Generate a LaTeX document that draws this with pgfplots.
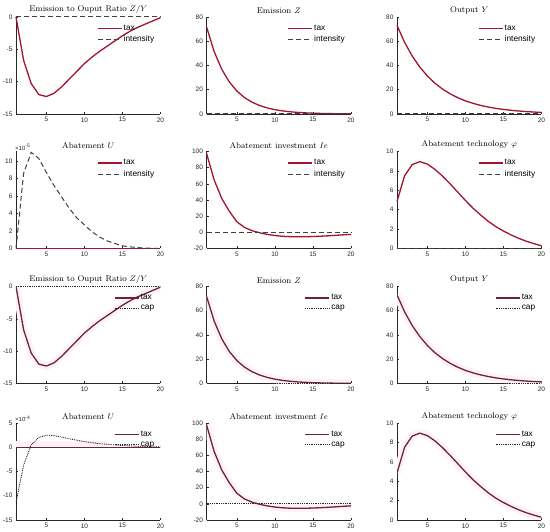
\documentclass[border=0pt]{standalone}
\usepackage{fontspec}
\setsansfont{Liberation Sans}
\usepackage{pgfplots}
\pgfplotsset{compat=1.18}
\usepackage{pgfplotstable}

\definecolor{crim}{RGB}{162,20,47}
\definecolor{maroonc}{RGB}{105,38,50}
\definecolor{dgray}{RGB}{64,64,64}
\definecolor{bandc}{RGB}{255,241,248}
\definecolor{axgray}{RGB}{38,38,38}

\pgfplotstableread{
x zy ez oy ie phi uint ucap
1 0 72.0 73.1 98 4.85 0 -11.4
2 -6.7 51.6 59.1 65 7.5 8.6 -3.7
3 -10.3 36.9 47.8 42 8.65 11.0 0.5
4 -12.0 26.4 38.7 26 8.95 10.3 2.0
5 -12.3 18.9 31.3 13 8.7 8.7 2.5
6 -11.8 13.5 25.3 6 8.15 7.2 2.4
7 -10.8 9.7 20.5 2 7.45 5.9 2.1
8 -9.6 6.95 16.6 -0.6 6.65 4.6 1.75
9 -8.4 4.97 13.4 -2.6 5.8 3.5 1.45
10 -7.2 3.56 10.8 -4.0 4.95 2.7 1.15
11 -6.2 2.55 8.77 -4.9 4.15 1.9 0.95
12 -5.3 1.83 7.09 -5.4 3.45 1.3 0.75
13 -4.5 1.31 5.74 -5.6 2.8 0.87 0.6
14 -3.7 0.94 4.64 -5.5 2.25 0.57 0.47
15 -2.9 0.67 3.76 -5.2 1.8 0.3 0.36
16 -2.2 0.48 3.04 -4.8 1.4 0.19 0.27
17 -1.6 0.34 2.46 -4.3 1.05 0.1 0.2
18 -1.1 0.25 1.99 -3.7 0.75 0.05 0.15
19 -0.6 0.18 1.61 -3.1 0.5 0.02 0.1
20 -0.1 0.13 1.30 -2.5 0.28 0 0.07
}\data

\pgfplotsset{
  lleg/.style={legend image code/.code={\draw[##1] (0pt,0pt) -- (24pt,0pt);}},
  panel/.style={
    scale only axis, width=144.5pt, height=97pt,
    anchor=south west,
    xmin=1, xmax=20, xtick={5,10,15,20},
    axis x line*=bottom, axis y line*=left,
    axis line style={axgray, line width=0.5pt},
    tick style={axgray, line width=0.5pt},
    major tick length=2pt, tick align=inside,
    ticklabel style={font=\fontsize{6.5}{7.5}\sffamily, text=axgray},
    /pgf/number format/assume math mode=true,
    title style={at={(0.5,1)}, anchor=south, font=\fontsize{8.3}{9}\selectfont, inner sep=0pt, yshift=-3pt},
    legend style={draw=none, fill=none, font=\fontsize{8.3}{9.5}\sffamily,
      at={(0.975,0.935)}, anchor=north east, inner sep=1pt, row sep=3pt,
      nodes={inner xsep=1.5pt, inner ysep=0.5pt}},
    legend cell align=left,
  },
  top/.style={panel, clip=false},
  bot/.style={panel, clip mode=individual},
  taxA/.style={crim, line width=1.3pt, lleg},
  taxB/.style={maroonc, line width=1.3pt, lleg},
  intens/.style={dgray, line width=1pt, dash pattern=on 5pt off 3pt, lleg},
  capst/.style={black!85, line width=0.9pt, dash pattern=on 0.9pt off 0.9pt, lleg},
  bandst/.style={bandc, line width=8pt, forget plot},
}

\begin{document}
\begin{tikzpicture}
\useasboundingbox (0,0) rectangle (550pt,532pt);

% ---------- Row 1 ----------
\begin{axis}[top, at={(16pt,418pt)}, ymin=-15, ymax=0, ytick={-15,-10,-5,0},
  title={Emission to Ouput Ratio $Z/Y$}]
\addplot[taxA] table[x=x,y=zy]{\data};
\addplot[intens] coordinates {(1,0) (20,0)};
\legend{tax,intensity}
\end{axis}

\begin{axis}[top, at={(206.5pt,418pt)}, ymin=0, ymax=80, ytick={0,20,40,60,80},
  title={Emission $Z$}]
\addplot[taxA] table[x=x,y=ez]{\data};
\addplot[intens] coordinates {(1,0) (20,0)};
\legend{tax,intensity}
\end{axis}

\begin{axis}[top, at={(397pt,418pt)}, ymin=0, ymax=80, ytick={0,20,40,60,80},
  title={Output $Y$}]
\addplot[taxA] table[x=x,y=oy]{\data};
\addplot[intens] coordinates {(1,0) (20,0)};
\legend{tax,intensity}
\end{axis}

% ---------- Row 2 ----------
\begin{axis}[top, at={(16pt,283.5pt)}, ymin=0, ymax=11.1, ytick={0,2,4,6,8,10},
  title={Abatement $U$}]
\addplot[taxA] coordinates {(1,0) (20,0)};
\addplot[intens] table[x=x,y=uint]{\data};
\legend{tax,intensity}
\node[anchor=south west, font=\fontsize{6}{6.5}\sffamily, text=axgray, inner sep=0pt, xshift=-1pt, yshift=1pt] at (rel axis cs:0,1) {×10\textsuperscript{-5}};
\end{axis}

\begin{axis}[top, at={(206.5pt,283.5pt)}, ymin=-20, ymax=100, ytick={-20,0,20,40,60,80,100},
  title={Abatement investment $Ie$}]
\addplot[taxA] table[x=x,y=ie]{\data};
\addplot[intens] coordinates {(1,0) (20,0)};
\legend{tax,intensity}
\end{axis}

\begin{axis}[top, at={(397pt,283.5pt)}, ymin=0, ymax=10, ytick={0,2,4,6,8,10},
  title={Abatement technology $\varphi$}]
\addplot[taxA] table[x=x,y=phi]{\data};
\addplot[intens] coordinates {(1,0) (20,0)};
\legend{tax,intensity}
\end{axis}

% ---------- Row 3 ----------
\begin{axis}[bot, at={(16pt,148.5pt)}, ymin=-15, ymax=0, ytick={-15,-10,-5,0},
  title={Emission to Ouput Ratio $Z/Y$}]
\addplot[bandst] table[x=x,y=zy]{\data};
\addplot[taxB] table[x=x,y=zy]{\data};
\addplot[capst] coordinates {(1,0) (20,0)};
\legend{tax,cap}
\end{axis}

\begin{axis}[bot, at={(206.5pt,148.5pt)}, ymin=0, ymax=80, ytick={0,20,40,60,80},
  title={Emission $Z$}]
\addplot[bandst] table[x=x,y=ez]{\data};
\addplot[taxB] table[x=x,y=ez]{\data};
\addplot[capst] coordinates {(1,0) (20,0)};
\legend{tax,cap}
\end{axis}

\begin{axis}[bot, at={(397pt,148.5pt)}, ymin=0, ymax=80, ytick={0,20,40,60,80},
  title={Output $Y$}]
\addplot[bandst] table[x=x,y=oy]{\data};
\addplot[taxB] table[x=x,y=oy]{\data};
\addplot[capst] coordinates {(1,0) (20,0)};
\legend{tax,cap}
\end{axis}

% ---------- Row 4 ----------
\begin{axis}[bot, at={(16pt,12pt)}, ymin=-15, ymax=5, ytick={-15,-10,-5,0,5},
  title={Abatement $U$}]
\addplot[bandc, fill=bandc, draw=none, forget plot] coordinates {(1,0) (1,1.2) (13,1.2) (13,0)} -- cycle;
\addplot[taxB] coordinates {(1,0) (20,0)};
\addplot[capst] table[x=x,y=ucap]{\data};
\legend{tax,cap}
\node[anchor=south west, font=\fontsize{6}{6.5}\sffamily, text=axgray, inner sep=0pt, xshift=-1pt, yshift=1pt] at (rel axis cs:0,1) {×10\textsuperscript{-4}};
\end{axis}

\begin{axis}[bot, at={(206.5pt,12pt)}, ymin=-20, ymax=100, ytick={-20,0,20,40,60,80,100},
  title={Abatement investment $Ie$}]
\addplot[bandst] table[x=x,y=ie]{\data};
\addplot[taxB] table[x=x,y=ie]{\data};
\addplot[capst] coordinates {(1,0) (20,0)};
\legend{tax,cap}
\end{axis}

\begin{axis}[bot, at={(397pt,12pt)}, ymin=0, ymax=10, ytick={0,2,4,6,8,10},
  title={Abatement technology $\varphi$}]
\addplot[bandst] table[x=x,y=phi]{\data};
\addplot[taxB] table[x=x,y=phi]{\data};
\addplot[capst] coordinates {(1,0) (20,0)};
\legend{tax,cap}
\end{axis}
\end{tikzpicture}
\end{document}
